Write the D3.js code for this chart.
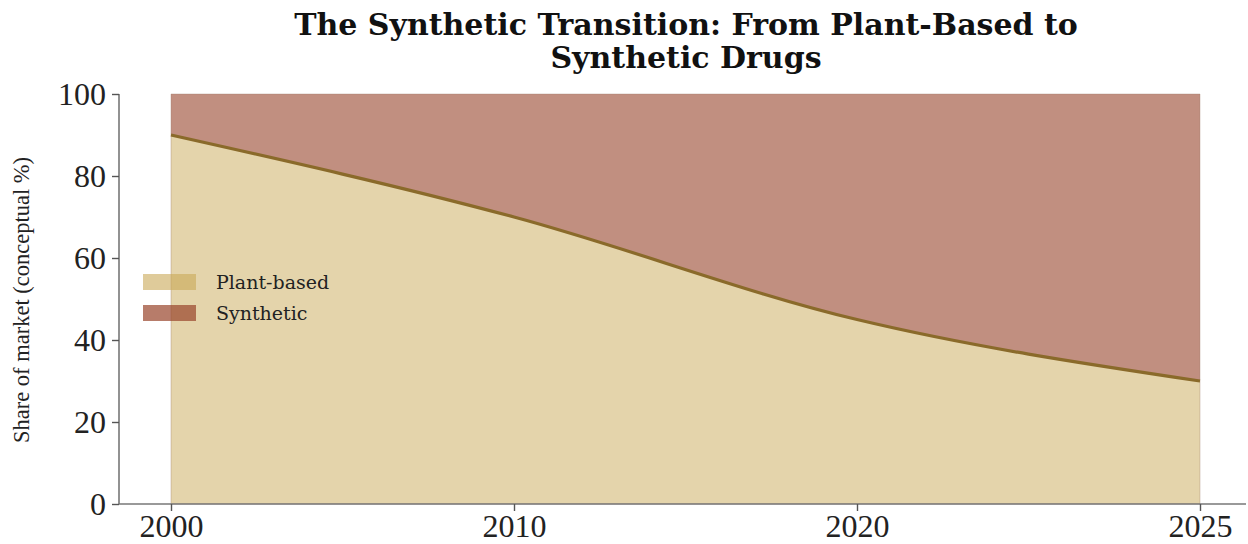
<!DOCTYPE html>
<html><head><meta charset="utf-8">
<script src="https://cdn.jsdelivr.net/npm/d3@7"></script>
<style>html,body{margin:0;padding:0;background:#fff;}svg{display:block;}</style>
</head><body>
<svg id="chart" width="1248" height="544"></svg>
<script>
const years = ["2000", "2010", "2020", "2025"];
const plantBased = [90, 70, 45, 30];
const synthetic = [10, 30, 55, 70];
const yTicks = [0, 20, 40, 60, 80, 100];
const seriesNames = ["Plant-based", "Synthetic"];
const titleLines = ["The Synthetic Transition: From Plant-Based to", "Synthetic Drugs"];
const yLabel = "Share of market (conceptual %)";

const svg = d3.select("#chart");
const axisLeft = 119, axisBottom = 504, axisTop = 94, axisRight = 1246;

const rows = years.map((y, i) => ({year: y, "Plant-based": plantBased[i], "Synthetic": synthetic[i]}));
const stack = d3.stack().keys(seriesNames)(rows);

const x = d3.scalePoint().domain(years).range([171, 1200]);
const y = d3.scaleLinear().domain([0, 100]).range([axisBottom, axisTop]);

const fills = {"Plant-based": "#c9a957", "Synthetic": "#98442b"};
const opac = {"Plant-based": 0.5, "Synthetic": 0.6};

const area = d3.area().x(d => x(d.data.year)).y0(d => y(d[0])).y1(d => y(d[1])).curve(d3.curveMonotoneX);

svg.append("g").selectAll("path").data(stack).join("path")
  .attr("d", area)
  .attr("fill", d => fills[d.key])
  .attr("fill-opacity", d => opac[d.key])
  .attr("stroke", "#9a7a6a")
  .attr("stroke-opacity", 0.35)
  .attr("stroke-width", 1);

const line = d3.line().x((d, i) => x(years[i])).y(d => y(d)).curve(d3.curveMonotoneX);
svg.append("path").datum(plantBased).attr("d", line)
  .attr("fill", "none").attr("stroke", "#8a6a2a").attr("stroke-width", 3.2)
  .attr("stroke-linejoin", "round");

const fontSerif = "'Liberation Serif', 'Times New Roman', serif";
const fontDV = "'DejaVu Serif', serif";
const yAxis = svg.append("g").attr("transform", `translate(${axisLeft},0)`)
  .call(d3.axisLeft(y).tickValues(yTicks).tickSize(7).tickPadding(6));
yAxis.select(".domain").attr("d", `M0,${axisTop}V${axisBottom}`);
const xAxis = svg.append("g").attr("transform", `translate(0,${axisBottom})`)
  .call(d3.axisBottom(x).tickSize(7).tickPadding(5));
xAxis.select(".domain").attr("d", `M${axisLeft},0H${axisRight}`);
[yAxis, xAxis].forEach(g => {
  g.select(".domain").attr("stroke", "#777").attr("stroke-width", 1.6);
  g.selectAll(".tick line").attr("stroke", "#555").attr("stroke-width", 1.4);
  g.selectAll(".tick text").attr("fill", "#222").style("font-family", fontSerif).style("font-size", "32px");
});
xAxis.selectAll(".tick text").attr("dy", "0.66em");

svg.append("text").attr("transform", `translate(29,300) rotate(-90)`)
  .attr("text-anchor", "middle").attr("fill", "#222")
  .style("font-family", fontSerif).style("font-size", "22.5px").text(yLabel);

svg.append("g").selectAll("text").data(titleLines).join("text")
  .attr("x", 686).attr("y", (d, i) => 35 + i * 33)
  .attr("text-anchor", "middle").attr("fill", "#111")
  .style("font-family", fontDV).style("font-weight", "bold").style("font-size", "30px")
  .text(d => d);

const lg = svg.append("g");
seriesNames.forEach((n, i) => {
  const yy = 274 + i * 31;
  lg.append("rect").attr("x", 143).attr("y", yy).attr("width", 53).attr("height", 16)
    .attr("fill", fills[n]).attr("fill-opacity", opac[n] + 0.1);
  lg.append("text").attr("x", 216).attr("y", yy + 8).attr("dy", "0.35em")
    .attr("fill", "#222").style("font-family", fontDV).style("font-size", "19px").text(n);
});
</script>
</body></html>
